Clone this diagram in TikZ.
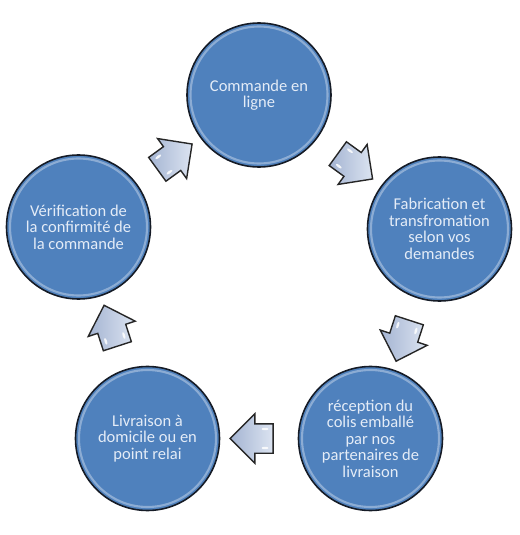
\documentclass[tikz,border=0pt]{standalone}
\usepackage{fontspec}
\setmainfont{Carlito}
\usetikzlibrary{positioning,calc,shapes.arrows}
\definecolor{disc}{HTML}{4F81BD}
\definecolor{discedge}{HTML}{151B26}
\definecolor{disctext}{HTML}{E4ECF7}
\definecolor{arrowtop}{HTML}{DCE4F1}
\definecolor{arrowbot}{HTML}{A4B4D2}

\begin{document}
\begin{tikzpicture}[x=1cm,y=1cm,
  stepdisc/.style={circle, minimum size=2.88cm, inner sep=0pt, fill=disc, draw=discedge, line width=0.9pt,
    text=disctext, align=center, font=\fontsize{9.4}{9.4}\selectfont,
    path picture={\draw[white, opacity=0.35, line width=1.2pt] (path picture bounding box.center) circle (1.37cm);}},
  flowarrow/.style={single arrow, minimum height=0.86cm, minimum width=0.96cm, single arrow head extend=0.2cm,
    inner xsep=0pt, inner ysep=0.28cm, draw=black!85, line width=0.8pt, left color=arrowbot, right color=arrowtop,
    path picture={\fill[white, opacity=0.85] (-0.12,0.19) ellipse (0.07cm and 0.025cm);
      \fill[white, opacity=0.85] (-0.12,-0.19) ellipse (0.07cm and 0.025cm);}}]
\useasboundingbox (0,0) rectangle (10.38,10.70);
% les cinq etapes
\node[stepdisc] (cmd) at (5.18,8.80) {Commande en\\ligne};
\node[stepdisc] (fab) at (8.79,6.12) {Fabrication et\\transfromation\\selon vos\\demandes};
\node[stepdisc] (recep) at (7.41,1.93) {réception du\\colis emballé\\par nos\\partenaires de\\livraison};
\node[stepdisc] (livr) at (2.95,1.93) {Livraison à\\domicile ou en\\point relai};
\node[stepdisc] (verif) at (1.57,6.16) {Vérification de\\la confirmité de\\la commande};
% fleches entre les etapes
\node[flowarrow, rotate=-36] (a1) at ($(cmd)!0.5!(fab)$) {};
\node[flowarrow, rotate=-108] (a2) at ($(fab)!0.5!(recep)$) {};
\node[flowarrow, rotate=180] (a3) at ($(recep)!0.5!(livr)$) {};
\node[flowarrow, rotate=108] (a4) at ($(livr)!0.5!(verif)$) {};
\node[flowarrow, rotate=36] (a5) at ($(verif)!0.5!(cmd)$) {};
\end{tikzpicture}
\end{document}
